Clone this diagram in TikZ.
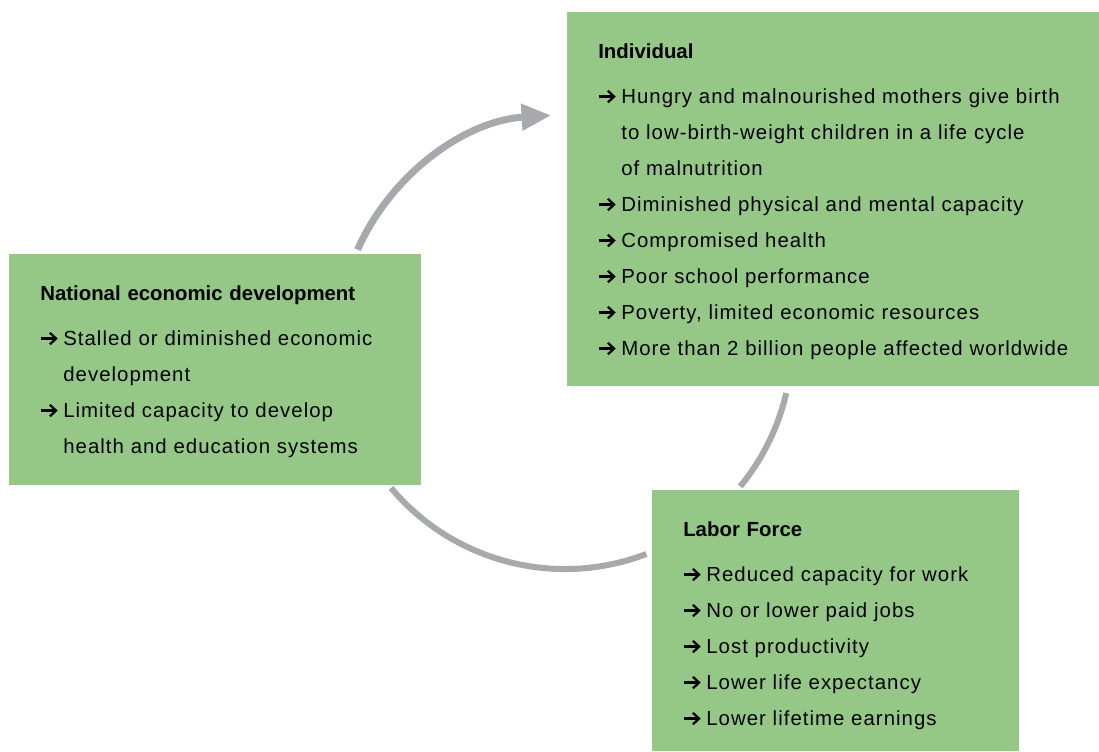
\documentclass[tikz,border=0pt]{standalone}
\usepackage{fontspec}
\setmainfont{Liberation Sans}[LetterSpace=5, BoldFeatures={LetterSpace=0}]
\usetikzlibrary{arrows.meta,calc}

\definecolor{leafgreen}{RGB}{149,200,135}
\definecolor{loopgray}{RGB}{167,169,172}

\newcommand{\pointer}{\tikz[baseline=0pt]\draw[line width=1.6pt, -{Straight Barb[length=4.4pt, width=8.2pt]}] (0pt,5.2pt) -- (11.6pt,5.2pt);}
\newcommand{\hdr}[1]{\noindent\textbf{#1}\par\vspace{7pt}}
\newcommand{\bul}[1]{\par\hangindent=16.4pt\hangafter=1\noindent\makebox[16.4pt][l]{\pointer}#1\par}

\begin{document}
\begin{tikzpicture}[x=0.025cm, y=0.025cm,
    panel/.style={rectangle, fill=leafgreen, anchor=north west, inner sep=0pt},
    paneltext/.style={anchor=north west, inner sep=0pt, align=left,
        font=\fontsize{14.5pt}{25.6pt}\selectfont},
    loop/.style={draw=loopgray, line width=4.3pt}]
                \useasboundingbox (0,0) rectangle (1099,751);

                % Nodes
                \node[panel, minimum width=13.3cm, minimum height=9.35cm]  at (567, 739)  (indiv)  {};
                \node[panel, minimum width=10.3cm, minimum height=5.775cm] at (9, 497)    (nation) {};
                \node[panel, minimum width=9.175cm, minimum height=6.525cm] at (652, 261) (labor)  {};

                \node[paneltext, text width=12.5cm] at ($(indiv.north west)+(31,-31)$) (indivtxt) {%
                    \hdr{Individual}
                    \bul{Hungry and malnourished mothers give birth\newline to low-birth-weight children in a life cycle\newline of malnutrition}
                    \bul{Diminished physical and mental capacity}
                    \bul{Compromised health}
                    \bul{Poor school performance}
                    \bul{Poverty, limited economic resources}
                    \bul{More than 2 billion people affected worldwide}};
                \node[paneltext, text width=9.5cm] at ($(nation.north west)+(31,-31)$) (nationtxt) {%
                    \hdr{National economic development}
                    \bul{Stalled or diminished economic\newline development}
                    \bul{Limited capacity to develop\newline health and education systems}};
                \node[paneltext, text width=8.4cm] at ($(labor.north west)+(31,-31)$) (labortxt) {%
                    \hdr{Labor Force}
                    \bul{Reduced capacity for work}
                    \bul{No or lower paid jobs}
                    \bul{Lost productivity}
                    \bul{Lower life expectancy}
                    \bul{Lower lifetime earnings}};

                % Cycle
                \coordinate (hub) at (565, 409);
                \coordinate (nationout) at ($(hub)+(156:5.675cm)$);
                \coordinate (indivout)  at ($(hub)+(-13:5.675cm)$);
                \coordinate (laborout)  at ($(hub)+(220:5.675cm)$);

                \draw[loop, line width=5pt, -{Triangle[length=21pt, width=18pt]}]
                    (nationout) arc[start angle=156, end angle=93.5, radius=5.675cm];
                \draw[loop]  (indivout) arc[start angle=-13, end angle=-39.5, radius=5.675cm];
                \draw[loop]  (laborout) arc[start angle=220, end angle=291, radius=5.675cm];
            \end{tikzpicture}
\end{document}
